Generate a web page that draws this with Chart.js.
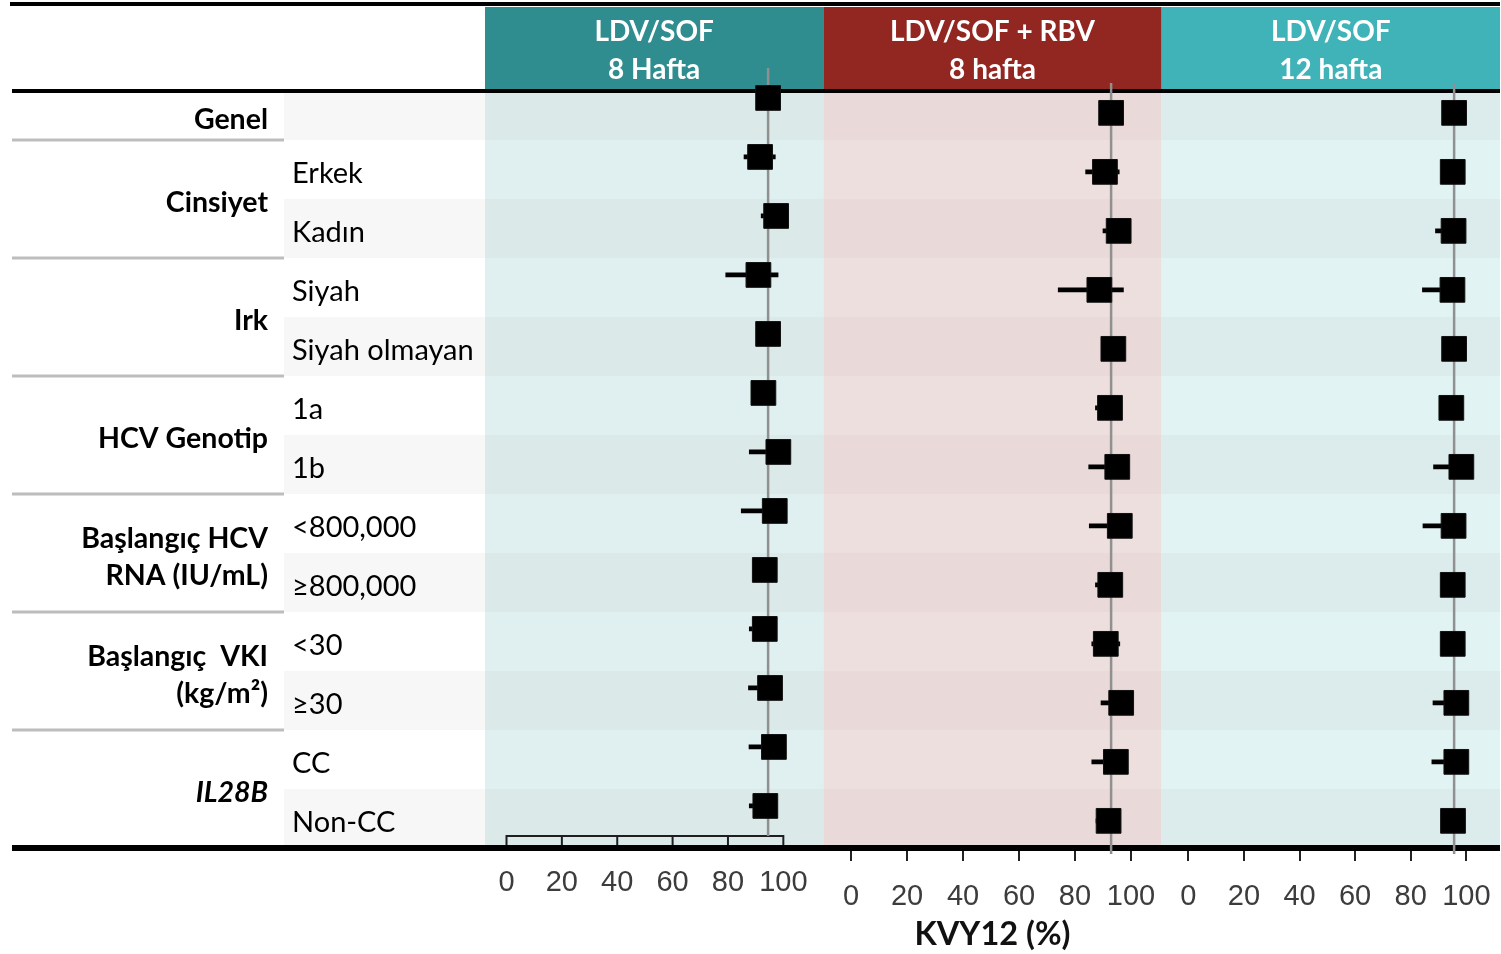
<!DOCTYPE html>
<html>
<head>
<meta charset="utf-8">
<title>KVY12 alt grup analizi</title>
<script src="https://cdn.jsdelivr.net/npm/chart.js@4.4.1/dist/chart.umd.min.js"></script>
<style>
  html, body { margin: 0; padding: 0; background: #ffffff; }
  #wrap { width: 1501px; height: 954px; }
  canvas { display: block; }
</style>
</head>
<body>
<div id="wrap"><canvas id="forest" width="1501" height="954"></canvas></div>
<script>
// ---- Row and group labels ----
const subgroupLabels = ['', 'Erkek', 'Kadın', 'Siyah', 'Siyah olmayan', '1a', '1b',
  '<800,000', '≥800,000', '<30', '≥30', 'CC', 'Non-CC'];
const groupLabels = [['Genel'], ['Cinsiyet'], ['Irk'], ['HCV Genotip'],
  ['Başlangıç HCV', 'RNA (IU/mL)'], ['Başlangıç  VKI', '(kg/m²)'], ['IL28B']];
const groupFirstRow = [0, 1, 3, 5, 7, 9, 11];
const groupLastRow  = [0, 2, 4, 6, 8, 10, 12];

// ---- Treatment arms ----
const armTitles = [['LDV/SOF', '8 Hafta'], ['LDV/SOF + RBV', '8 hafta'], ['LDV/SOF', '12 hafta']];
const xTickValues = [0, 20, 40, 60, 80, 100];
const axisTitle = 'KVY12 (%)';

// LDV/SOF 8 hafta: KVY12 (%) and 95% CI
const svrLdvSof8   = [94.5, 91.6, 97.4, 91.0, 94.5, 92.8, 98.2, 96.9, 93.3, 93.3, 95.2, 96.6, 93.5];
const lowerLdvSof8 = [91.0, 85.8, 92.0, 79.2, 91.5, 89.5, 87.7, 84.8, 90.0, 87.7, 87.4, 87.6, 87.7];
const upperLdvSof8 = [97.0, 97.1, 99.5, 98.1, 97.5, 96.0, 99.8, 99.5, 96.5, 96.8, 98.5, 99.5, 96.5];

// LDV/SOF + RBV 8 hafta
const svrLdvSofRbv8   = [92.9, 90.7, 95.6, 88.7, 93.7, 92.5, 95.1, 96.0, 92.6, 91.0, 96.5, 94.6, 92.0];
const lowerLdvSofRbv8 = [89.5, 83.8, 90.0, 74.0, 90.5, 87.3, 84.9, 85.1, 87.3, 86.0, 89.3, 86.0, 87.5];
const upperLdvSofRbv8 = [96.0, 95.8, 99.0, 97.3, 97.0, 96.0, 98.5, 99.5, 96.0, 96.0, 99.5, 98.5, 95.5];

// LDV/SOF 12 hafta
const svrLdvSof12   = [95.6, 95.1, 95.4, 95.0, 95.6, 94.6, 98.2, 95.4, 95.1, 95.1, 96.4, 96.4, 95.2];
const lowerLdvSof12 = [92.5, 91.5, 88.9, 84.2, 92.5, 91.0, 88.2, 84.4, 92.0, 92.0, 88.0, 87.6, 92.0];
const upperLdvSof12 = [98.0, 98.0, 98.5, 99.0, 98.0, 97.5, 100.0, 98.5, 98.0, 98.0, 99.5, 99.5, 98.0];

const arms = [
  { est: svrLdvSof8,    lo: lowerLdvSof8,    hi: upperLdvSof8 },
  { est: svrLdvSofRbv8, lo: lowerLdvSofRbv8, hi: upperLdvSofRbv8 },
  { est: svrLdvSof12,   lo: lowerLdvSof12,   hi: upperLdvSof12 }
];

// ---- Styling ----
const textFont = 'Lato, "Open Sans", "DejaVu Sans", sans-serif';
const tickFont = '"Liberation Sans", Arial, sans-serif';
const headerColors = ['#2f8c8f', '#922621', '#40b3b8'];
const stripeColors = [['#dbe9e9', '#e0efef'], ['#e9d9d9', '#eedfdf'], ['#dcecec', '#e1f3f3']];
const labelStripe = '#f7f7f7';
const markerShift = [-0.213, 0.04, 0.04];      // vertical placement of each arm's marks within a row
const refLineSpan = [[68, 836], [83, 854], [83, 854]];

const panelIds = ['x1', 'x2', 'x3'];

// fixed box sizes for the axes, no extra label overhang padding
function fixBox(size) {
  return (scale) => {
    if (scale.isHorizontal()) scale.height = size; else scale.width = size;
    scale.paddingTop = 0;
    scale.paddingBottom = 0;
    scale.paddingLeft = 0;
    scale.paddingRight = 0;
  };
}

const tablePlugin = {
  id: 'forestTable',
  beforeDraw(chart) {
    const { ctx, chartArea: area } = chart;
    const y = chart.scales.y;
    ctx.save();
    panelIds.forEach((id, k) => {
      const s = chart.scales[id];
      // header block
      ctx.fillStyle = headerColors[k];
      ctx.fillRect(s.left, 7, s.right - s.left, 83);
      ctx.fillStyle = '#ffffff';
      ctx.font = 'bold 28px ' + textFont;
      ctx.textAlign = 'center';
      ctx.textBaseline = 'middle';
      const cx = (s.left + s.right) / 2;
      ctx.fillText(armTitles[k][0], cx, 32);
      ctx.fillText(armTitles[k][1], cx, 70);
      // row bands
      for (let i = 0; i < subgroupLabels.length; i++) {
        const top = Math.max(area.top, y.getPixelForValue(i - 0.5));
        const bot = Math.min(area.bottom, y.getPixelForValue(i + 0.5));
        ctx.fillStyle = stripeColors[k][i % 2];
        ctx.fillRect(s.left, top, s.right - s.left, bot - top);
      }
    });
    // bands behind the subgroup labels
    for (let i = 0; i < subgroupLabels.length; i += 2) {
      const top = Math.max(area.top, y.getPixelForValue(i - 0.5));
      const bot = Math.min(area.bottom, y.getPixelForValue(i + 0.5));
      ctx.fillStyle = labelStripe;
      ctx.fillRect(284, top, area.left - 284, bot - top);
    }
    ctx.restore();
  },
  beforeDatasetsDraw(chart) {
    const { ctx } = chart;
    const y = chart.scales.y;
    ctx.save();
    // rules
    ctx.fillStyle = '#000000';
    ctx.fillRect(10, 2, 1490, 4);
    ctx.fillRect(12, 89, 1488, 4);
    ctx.fillRect(12, 845, 1488, 6);
    // group separators
    ctx.fillStyle = '#bdbdbd';
    for (let g = 0; g < groupLastRow.length - 1; g++) {
      const yy = y.getPixelForValue(groupLastRow[g] + 0.5);
      ctx.fillRect(12, yy - 1.5, 272, 3);
    }
    // bracket axis of the first arm
    const s1 = chart.scales.x1;
    ctx.strokeStyle = '#1e1e1e';
    ctx.lineWidth = 2;
    ctx.beginPath();
    ctx.moveTo(s1.getPixelForValue(xTickValues[0]) - 1, 836);
    ctx.lineTo(s1.getPixelForValue(xTickValues[xTickValues.length - 1]) + 1, 836);
    xTickValues.forEach(v => {
      const px = s1.getPixelForValue(v);
      ctx.moveTo(px, 836);
      ctx.lineTo(px, 845);
    });
    ctx.stroke();
    // overall estimate reference lines
    ctx.strokeStyle = '#909090';
    ctx.lineWidth = 2.5;
    panelIds.forEach((id, k) => {
      const px = chart.scales[id].getPixelForValue(arms[k].est[0]);
      ctx.beginPath();
      ctx.moveTo(px, refLineSpan[k][0]);
      ctx.lineTo(px, refLineSpan[k][1]);
      ctx.stroke();
    });
    ctx.restore();
  }
};

const datasets = [];
arms.forEach((arm, k) => {
  datasets.push({
    type: 'bar',
    indexAxis: 'y',
    xAxisID: panelIds[k],
    yAxisID: 'y',
    grouped: false,
    barThickness: 4,
    backgroundColor: '#000000',
    borderWidth: 0,
    order: 2,
    data: arm.est.map((_, i) => ({ x: [arm.lo[i], arm.hi[i]], y: i + markerShift[k] }))
  });
  datasets.push({
    type: 'scatter',
    xAxisID: panelIds[k],
    yAxisID: 'y',
    order: 1,
    clip: false,
    pointStyle: 'rect',
    pointRadius: 17.5,
    backgroundColor: '#000000',
    borderColor: '#111111',
    borderWidth: 1,
    data: arm.est.map((v, i) => ({ x: v, y: i + markerShift[k] }))
  });
});

function panelScale(k, min, max) {
  const withTicks = k > 0;
  return {
    type: 'linear',
    position: 'bottom',
    stack: 'panels',
    stackWeight: 1,
    offset: false,
    beginAtZero: false,
    min: min,
    max: max,
    afterBuildTicks: (scale) => { scale.ticks = xTickValues.map(v => ({ value: v })); },
    afterFit: fixBox(103),
    border: { display: false },
    grid: {
      display: withTicks,
      offset: false,
      drawOnChartArea: false,
      drawTicks: withTicks,
      tickLength: 10,
      color: '#222222',
      lineWidth: 2
    },
    ticks: {
      autoSkip: false,
      maxRotation: 0,
      minRotation: 0,
      padding: withTicks ? 19 : 15,
      color: '#3c3c3c',
      font: { family: tickFont, size: 29 }
    },
    title: k === 1 ? {
      display: true,
      text: axisTitle,
      color: '#111111',
      font: { family: textFont, size: 32.5, weight: 'bold' },
      padding: { top: 0, bottom: 0 }
    } : { display: false }
  };
}

function rowScale(weight, width) {
  return {
    type: 'linear',
    position: 'left',
    weight: weight,
    offset: false,
    beginAtZero: false,
    reverse: true,
    min: -0.3136,
    max: 12.551,
    afterFit: fixBox(width),
    border: { display: false },
    grid: { display: false, drawTicks: false, offset: false }
  };
}

const subgroupScale = Object.assign(rowScale(0, 193), {
  afterBuildTicks: (scale) => { scale.ticks = subgroupLabels.map((_, i) => ({ value: i })); },
  ticks: {
    autoSkip: false,
    crossAlign: 'far',
    padding: 0,
    labelOffset: 4,
    color: '#000000',
    font: { family: textFont, size: 29 },
    callback: (value) => subgroupLabels[Math.round(value)]
  }
});

const groupScale = Object.assign(rowScale(1, 292), {
  afterBuildTicks: (scale) => {
    scale.ticks = groupFirstRow.map((first, g) => {
      // centre of the visible part of the group's rows
      const top = Math.max(first - 0.5, scale.min);
      const bottom = Math.min(groupLastRow[g] + 0.5, scale.max);
      return { value: (top + bottom) / 2 };
    });
  },
  ticks: {
    autoSkip: false,
    crossAlign: 'near',
    padding: 24,
    labelOffset: 4,
    color: '#000000',
    font: (c) => ({
      family: textFont,
      size: 28.5,
      weight: 'bold',
      style: groupLabels[c.index] && groupLabels[c.index][0] === 'IL28B' ? 'italic' : 'normal',
      lineHeight: 1.3
    }),
    callback: (value, index) => groupLabels[index]
  }
});

new Chart(document.getElementById('forest'), {
  type: 'scatter',
  data: { datasets },
  plugins: [tablePlugin],
  options: {
    responsive: false,
    animation: false,
    events: [],
    layout: { autoPadding: false, padding: { top: 92, left: 0, right: 1, bottom: 0 } },
    plugins: { legend: { display: false }, tooltip: { enabled: false } },
    scales: {
      x1: panelScale(0, -7.77, 114.45),
      x2: panelScale(1, -9.9, 110.96),
      x3: panelScale(2, -9.57, 112.1),
      y: subgroupScale,
      yg: groupScale
    }
  }
});
</script>
</body>
</html>
